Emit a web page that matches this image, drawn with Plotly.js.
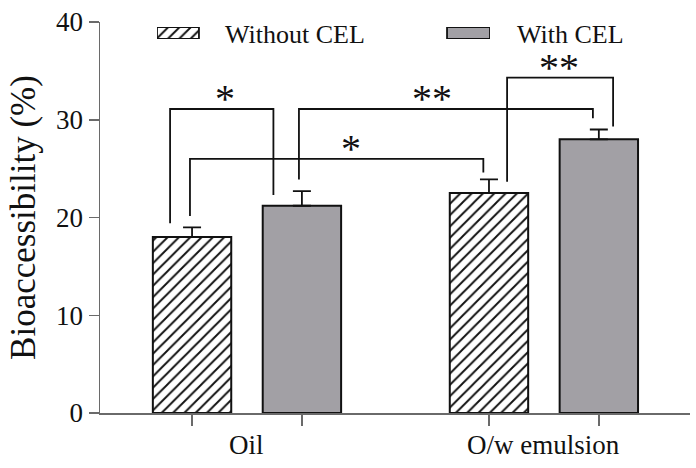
<!DOCTYPE html>
<html>
<head>
<meta charset="utf-8">
<script src="https://cdn.plot.ly/plotly-3.0.1.min.js"></script>
<style>html,body{margin:0;padding:0;background:#fff;}#chart{width:696px;height:468px;}</style>
</head>
<body>
<div id="chart"></div>
<script>
// ---- data ----
const categories = ['Oil', 'O/w emulsion'];
const seriesNames = ['Without CEL', 'With CEL'];
const withoutCEL = [18.0, 22.5];
const withoutCELErr = [1.0, 1.4];
const withCEL = [21.2, 28.0];
const withCELErr = [1.5, 1.0];
const yTicks = [0, 10, 20, 30, 40];

// significance brackets (axis units)
const bracketLeftX = [-0.259, -0.192, 0.175, 0.876];
const bracketRightX = [0.089, 0.796, 1.165, 1.233];
const bracketLeftFoot = [19.4, 20.15, 23.9, 23.66];
const bracketRightFoot = [22.3, 24.6, 30.15, 29.3];
const bracketTop = [31.1, 26.0, 31.1, 34.3];
const bracketLabel = ['*', '*', '**', '**'];
const bracketLabelX = [-0.074, 0.349, 0.623, 1.05];

// ---- layout constants ----
const FONT = 'Liberation Serif';
const TXT = '#111';
const barOffset = 0.185;
const barWidth = 0.264;
const grey = '#a2a0a5';
const axisCol = '#6a6a6a';

const xWithout = categories.map((c, i) => i - barOffset);
const xWith = categories.map((c, i) => i + barOffset);
const zeros = categories.map(() => 0);

const hatch = {shape: '/', fgcolor: '#111', bgcolor: '#fff', size: 8, solidity: 0.24, fillmode: 'replace'};

const traces = [
  {
    type: 'bar', name: seriesNames[0], x: xWithout, y: withoutCEL, width: barWidth,
    marker: {color: '#fff', pattern: hatch, line: {color: '#111', width: 2}},
    error_y: {type: 'data', array: withoutCELErr, arrayminus: zeros, symmetric: false, color: '#111', thickness: 1.8, width: 9},
    showlegend: false, hoverinfo: 'skip'
  },
  {
    type: 'bar', name: seriesNames[1], x: xWith, y: withCEL, width: barWidth,
    marker: {color: grey, line: {color: '#111', width: 2}},
    error_y: {type: 'data', array: withCELErr, arrayminus: zeros, symmetric: false, color: '#111', thickness: 1.8, width: 9},
    showlegend: false, hoverinfo: 'skip'
  },
  // legend swatches
  {
    type: 'bar', name: seriesNames[0], x: [0.063], y: [1], width: [0.126], xaxis: 'x2', yaxis: 'y2', cliponaxis: false,
    marker: {color: '#fff', pattern: hatch, line: {color: '#111', width: 1.8}}, showlegend: false, hoverinfo: 'skip'
  },
  {
    type: 'bar', name: seriesNames[1], x: [0.9355], y: [1], width: [0.129], xaxis: 'x2', yaxis: 'y2', cliponaxis: false,
    marker: {color: grey, line: {color: '#111', width: 1.8}}, showlegend: false, hoverinfo: 'skip'
  }
];

const shapes = bracketLeftX.map((x0, i) => ({
  type: 'path', xref: 'x', yref: 'y',
  path: 'M' + x0 + ',' + bracketLeftFoot[i] + ' L' + x0 + ',' + bracketTop[i] +
        ' L' + bracketRightX[i] + ',' + bracketTop[i] + ' L' + bracketRightX[i] + ',' + bracketRightFoot[i],
  line: {color: '#111', width: 1.8}
}));

const annotations = [];
bracketLabel.forEach((t, i) => annotations.push({
  xref: 'x', yref: 'y', x: bracketLabelX[i], y: bracketTop[i], text: t, showarrow: false,
  xanchor: 'center', yanchor: 'bottom', yshift: -14,
  font: {family: FONT, size: 40, color: '#111'}
}));
categories.forEach((c, i) => annotations.push({
  xref: 'x', yref: 'paper', x: i, y: -0.082, text: c, showarrow: false,
  xanchor: 'center', yanchor: 'middle', font: {family: FONT, size: 27, color: TXT}
}));
const legendTextX = [0.2085, 0.7034];
seriesNames.forEach((s, i) => annotations.push({
  xref: 'paper', yref: 'paper', x: legendTextX[i], y: 0.968, text: s, showarrow: false,
  xanchor: 'left', yanchor: 'middle', font: {family: FONT, size: 26, color: TXT}
}));

const layout = {
  width: 696, height: 468,
  margin: {l: 100, r: 6, t: 22, b: 55, pad: 0},
  paper_bgcolor: '#fff', plot_bgcolor: '#fff',
  barmode: 'overlay',
  showlegend: false,
  font: {family: FONT, color: TXT},
  xaxis: {
    range: [-0.495, 1.492], tickvals: xWithout.concat(xWith), ticktext: xWithout.concat(xWith).map(() => ''),
    ticks: 'outside', ticklen: 11, tickwidth: 1.5, tickcolor: axisCol,
    showline: true, linecolor: axisCol, linewidth: 1.5, showgrid: false, zeroline: false,
    fixedrange: true, automargin: false
  },
  yaxis: {
    range: [0, 40], tickvals: yTicks, ticks: 'outside', ticklen: 10, tickwidth: 1.5, tickcolor: axisCol,
    showline: true, linecolor: axisCol, linewidth: 1.5, showgrid: false, zeroline: false,
    tickfont: {family: FONT, size: 27, color: TXT},
    title: {text: 'Bioaccessibility (%)', font: {family: FONT, size: 35, color: TXT}, standoff: 10},
    fixedrange: true, automargin: false
  },
  xaxis2: {domain: [0.0966, 0.661], range: [0, 1], visible: false, fixedrange: true, anchor: 'y2'},
  yaxis2: {domain: [0.9565, 0.987], range: [0, 1], visible: false, fixedrange: true, anchor: 'x2'},
  shapes: shapes,
  annotations: annotations
};

Plotly.newPlot('chart', traces, layout, {displayModeBar: false, staticPlot: true});
</script>
</body>
</html>
